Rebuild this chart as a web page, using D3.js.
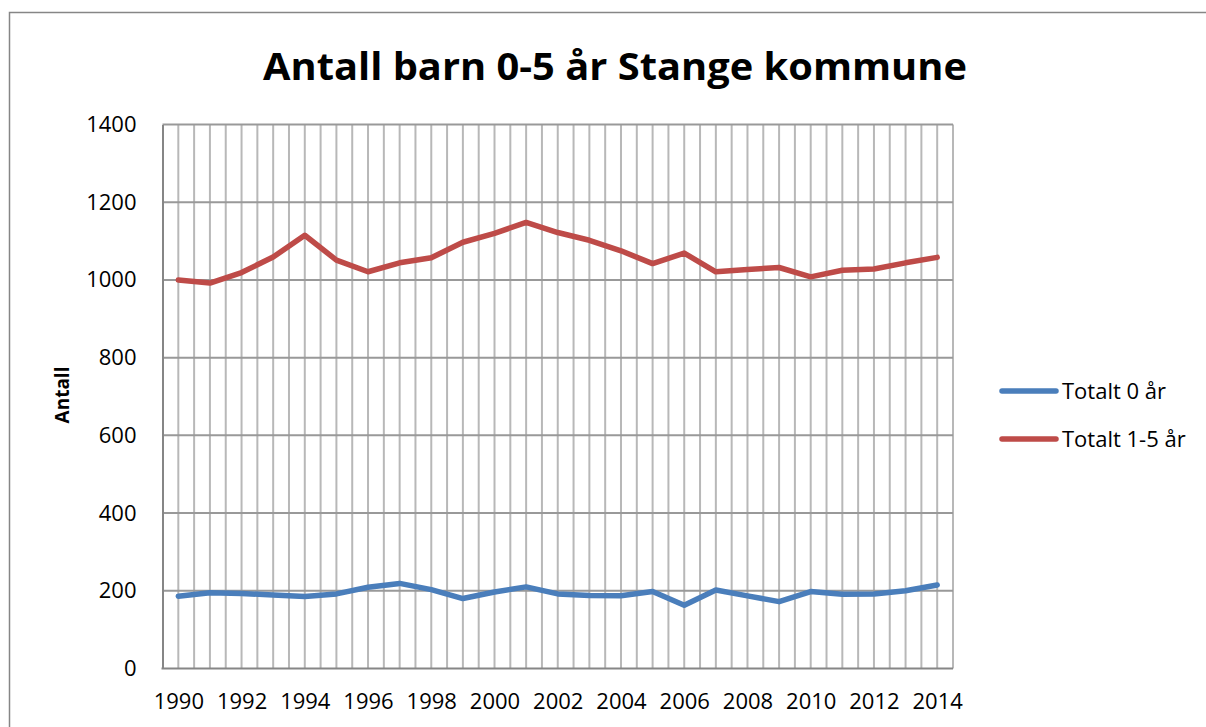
<!DOCTYPE html>
<html>
<head>
<meta charset="utf-8">
<script src="https://cdn.jsdelivr.net/npm/d3@7"></script>
<style>
  body { margin: 0; background: #fff; }
  svg { display: block; font-family: "Open Sans", sans-serif; }
</style>
</head>
<body>
<div id="chart"></div>
<script>
// data
const years = [1990, 1991, 1992, 1993, 1994, 1995, 1996, 1997, 1998, 1999, 2000, 2001, 2002,
               2003, 2004, 2005, 2006, 2007, 2008, 2009, 2010, 2011, 2012, 2013, 2014];
const total0 = [186, 195, 193, 189, 185, 192, 209, 219, 203, 180, 197, 210, 192,
                188, 187, 198, 163, 202, 187, 172, 198, 191, 192, 200, 215];
const total15 = [1000, 992, 1019, 1059, 1115, 1051, 1021, 1044, 1057, 1097, 1120, 1148, 1122,
                 1102, 1075, 1042, 1069, 1021, 1027, 1032, 1008, 1025, 1028, 1044, 1058];
const yTicks = [0, 200, 400, 600, 800, 1000, 1200, 1400];
const xLabels = years.filter((y, i) => i % 2 === 0);

const seriesNames = ["Totalt 0 år", "Totalt 1-5 år"];
const seriesColors = ["#4a7ebb", "#be4b48"];
const seriesValues = [total0, total15];

const width = 1206, height = 727;
const margin = {top: 124.5, right: 253, bottom: 58.5, left: 162.5};

const svg = d3.select("#chart").append("svg")
  .attr("width", width)
  .attr("height", height);

// outer chart frame (top and left edges visible)
svg.append("path")
  .attr("d", `M9.5,${height} V12.5 H${width}`)
  .attr("fill", "none")
  .attr("stroke", "#868686")
  .attr("stroke-width", 1.5);

const x = d3.scalePoint()
  .domain(years)
  .range([margin.left, width - margin.right])
  .padding(0.5);
const step = x.step();

const y = d3.scaleLinear()
  .domain([0, 1400])
  .range([height - margin.bottom, margin.top]);

// vertical grid: category edges and centers
const vLines = [];
years.forEach((yr, i) => {
  if (i > 0) vLines.push(x(yr) - step / 2);
  vLines.push(x(yr));
});
vLines.push(x(years[years.length - 1]) + step / 2);

svg.append("g")
  .selectAll("line")
  .data(vLines)
  .join("line")
  .attr("x1", d => d).attr("x2", d => d)
  .attr("y1", y(1400)).attr("y2", y(0))
  .attr("stroke", "#b8b8b8")
  .attr("stroke-width", 2);

// horizontal grid
svg.append("g")
  .selectAll("line")
  .data(yTicks.filter(d => d > 0))
  .join("line")
  .attr("x1", margin.left).attr("x2", width - margin.right)
  .attr("y1", d => y(d)).attr("y2", d => y(d))
  .attr("stroke", "#999")
  .attr("stroke-width", 2);

// axes
const yAxis = svg.append("g")
  .attr("transform", `translate(${margin.left},0)`)
  .call(d3.axisLeft(y).tickValues(yTicks).tickFormat(d3.format("d")).tickSize(0).tickPadding(26));
yAxis.select(".domain").attr("stroke", "#868686").attr("stroke-width", 2);
yAxis.selectAll("text").attr("font-size", 22).attr("fill", "#000")
  .attr("font-family", "Open Sans, sans-serif");

const xAxis = svg.append("g")
  .attr("transform", `translate(0,${y(0)})`)
  .call(d3.axisBottom(x).tickValues(xLabels).tickFormat(d3.format("d")).tickSize(0).tickPadding(25));
xAxis.select(".domain").remove();
xAxis.selectAll("text").attr("font-size", 22).attr("fill", "#000")
  .attr("font-family", "Open Sans, sans-serif");

svg.append("line")
  .attr("x1", margin.left - 1).attr("x2", width - margin.right)
  .attr("y1", y(0)).attr("y2", y(0))
  .attr("stroke", "#868686")
  .attr("stroke-width", 2);

// series lines
const line = d3.line()
  .x((d, i) => x(years[i]))
  .y(d => y(d));

svg.append("g")
  .selectAll("path")
  .data(seriesValues)
  .join("path")
  .attr("d", d => line(d))
  .attr("fill", "none")
  .attr("stroke", (d, i) => seriesColors[i])
  .attr("stroke-width", 5.5)
  .attr("stroke-linejoin", "round")
  .attr("stroke-linecap", "round");

// title
svg.append("text")
  .attr("x", 615)
  .attr("y", 80)
  .attr("text-anchor", "middle")
  .attr("font-size", 38)
  .attr("font-weight", "bold")
  .attr("textLength", 704)
  .attr("lengthAdjust", "spacingAndGlyphs")
  .text("Antall barn 0-5 år Stange kommune");

// y axis title
svg.append("text")
  .attr("transform", "translate(69,395) rotate(-90)")
  .attr("text-anchor", "middle")
  .attr("font-size", 19)
  .attr("font-weight", "bold")
  .text("Antall");

// legend
const legend = svg.append("g")
  .selectAll("g")
  .data(seriesNames)
  .join("g")
  .attr("transform", (d, i) => `translate(1002,${391 + i * 48})`);

legend.append("line")
  .attr("x1", 0).attr("x2", 54)
  .attr("stroke", (d, i) => seriesColors[i])
  .attr("stroke-width", 5.5)
  .attr("stroke-linecap", "round");

legend.append("text")
  .attr("x", 60)
  .attr("dy", "0.35em")
  .attr("font-size", 22)
  .text(d => d);
</script>
</body>
</html>
